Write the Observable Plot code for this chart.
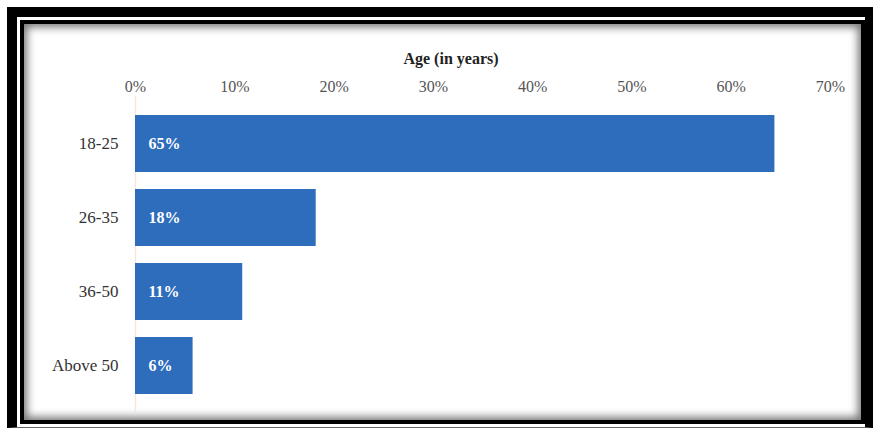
<!DOCTYPE html>
<html>
<head>
<meta charset="utf-8">
<script src="https://cdn.jsdelivr.net/npm/d3@7"></script>
<script src="https://cdn.jsdelivr.net/npm/@observablehq/plot@0.6"></script>
<style>
  html, body { margin: 0; padding: 0; background: #fff; width: 875px; height: 428px; overflow: hidden; }
  #outer { position: absolute; left: 7px; top: 7px; width: 866px; height: 421px; box-sizing: border-box;
    border-left: 10px solid #000; border-top: 10px solid #000; border-right: 8px solid #000; border-bottom: 1px solid #666; background: #fff; }
  #inner { position: absolute; left: 3px; top: 3px; right: 0px; bottom: 3px; box-sizing: border-box;
    border: 4px solid #000; background: #fff; box-shadow: inset 0 0 9px 3px rgba(0,0,0,0.55); }
  #chart { position: absolute; left: 0; top: 0; }
</style>
</head>
<body>
<div id="outer"><div id="inner"></div></div>
<div id="chart"></div>
<script>
const categories = ["18-25", "26-35", "36-50", "Above 50"];
const values = [64.4, 18.2, 10.8, 5.8];
const labels = ["65%", "18%", "11%", "6%"];
const xTicks = [0, 10, 20, 30, 40, 50, 60, 70];
const title = "Age (in years)";

const data = categories.map((c, i) => ({category: c, value: values[i], label: labels[i]}));
const serif = "'Liberation Serif', 'Times New Roman', serif";

const chart = Plot.plot({
  width: 875,
  height: 428,
  marginLeft: 135,
  marginRight: 45,
  marginTop: 96,
  marginBottom: 15,
  style: {background: "transparent", fontFamily: serif, overflow: "visible"},
  x: {domain: [0, 70], axis: null},
  y: {domain: categories, padding: 0.23, axis: null},
  marks: [
    Plot.axisX({anchor: "top", ticks: xTicks, tickFormat: d => d + "%", tickSize: 0, tickPadding: 5,
      label: null, fontSize: 16, fill: "#555", fontFamily: serif}),
    Plot.axisY({anchor: "left", tickSize: 0, tickPadding: 17, label: null, fontSize: 17,
      fill: "#333", fontFamily: serif}),
    Plot.ruleX([0], {stroke: "#f3e6dc", strokeWidth: 1.5}),
    Plot.barX(data, {y: "category", x: "value", fill: "#2e6cbc"}),
    Plot.text(data, {y: "category", text: "label", frameAnchor: "left", dx: 13, textAnchor: "start",
      fill: "white", fontWeight: "bold", fontSize: 16, fontFamily: serif}),
    Plot.text([title], {text: d => d, frameAnchor: "top", dx: -32, dy: -44, fontWeight: "bold",
      fontSize: 16, fill: "#222", fontFamily: serif})
  ]
});
document.getElementById("chart").appendChild(chart);
</script>
</body>
</html>
